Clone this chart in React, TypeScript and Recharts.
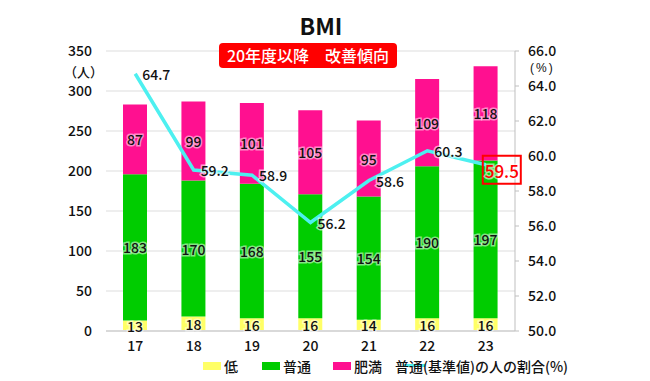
import React from 'react';
import {
  ComposedChart,
  Bar,
  Line,
  XAxis,
  YAxis,
  CartesianGrid,
  LabelList,
} from 'recharts';

const years = ['17', '18', '19', '20', '21', '22', '23'];
const lowCounts = [13, 18, 16, 16, 14, 16, 16];
const normalCounts = [183, 170, 168, 155, 154, 190, 197];
const obeseCounts = [87, 99, 101, 105, 95, 109, 118];
const normalRatio = [64.7, 59.2, 58.9, 56.2, 58.6, 60.3, 59.5];
const leftTicks = [0, 50, 100, 150, 200, 250, 300, 350];
const rightTicks = [50, 52, 54, 56, 58, 60, 62, 64, 66];

const LOW_COLOR = '#FFFF66';
const NORMAL_COLOR = '#00CC00';
const OBESE_COLOR = '#FF1090';
const LINE_COLOR = '#4DF0F0';
const FONT = '"Noto Sans CJK JP", "Noto Sans", sans-serif';

const data = years.map((y, i) => ({
  year: y,
  low: lowCounts[i],
  normal: normalCounts[i],
  obese: obeseCounts[i],
  ratio: normalRatio[i],
}));

const BarValue = (props: any) => {
  const { x, y, width, height, value } = props;
  return (
    <text
      x={x + width / 2}
      y={y + height / 2}
      textAnchor="middle"
      dominantBaseline="central"
      fontSize={14}
      fontWeight={500}
      fontFamily={FONT}
      fill="#111"
      stroke="#fff"
      strokeOpacity={0.5}
      strokeWidth={3}
      paintOrder="stroke"
    >
      {value}
    </text>
  );
};

const RatioValue = (props: any) => {
  const { x, y, value, index } = props;
  if (index === normalRatio.length - 1) {
    return (
      <g>
        <rect x={x - 3} y={y - 9} width={38} height={28} fill="none" stroke="#FF0000" strokeWidth={2} />
        <text
          x={x + 16}
          y={y + 5.5}
          textAnchor="middle"
          dominantBaseline="central"
          fontSize={17}
          fontWeight={500}
          fontFamily={FONT}
          fill="#FF0000"
          stroke="#fff"
          strokeOpacity={0.6}
          strokeWidth={3}
          paintOrder="stroke"
        >
          {value.toFixed(1)}
        </text>
      </g>
    );
  }
  return (
    <text
      x={x + 7}
      y={y}
      textAnchor="start"
      dominantBaseline="central"
      fontSize={14}
      fontWeight={500}
      fontFamily={FONT}
      fill="#111"
      stroke="#fff"
      strokeOpacity={0.6}
      strokeWidth={3}
      paintOrder="stroke"
    >
      {value.toFixed(1)}
    </text>
  );
};

const legendItems = [
  { label: '低', color: LOW_COLOR, left: 203 },
  { label: '普通', color: NORMAL_COLOR, left: 262 },
  { label: '肥満', color: OBESE_COLOR, left: 333 },
];

const tickStyle = { fontSize: 14, fill: '#111', fontFamily: FONT, fontWeight: 500 };

export default function App() {
  return (
    <div
      style={{
        position: 'absolute',
        left: 0,
        top: 0,
        width: 650,
        height: 381,
        background: '#fff',
        fontFamily: FONT,
      }}
    >
      <ComposedChart
        width={650}
        height={381}
        data={data}
        margin={{ top: 51, right: 75, bottom: 20, left: 66 }}
      >
        <CartesianGrid yAxisId="left" vertical={false} stroke="#DDDDDD" />
        <XAxis
          dataKey="year"
          height={30}
          tickLine={false}
          axisLine={{ stroke: '#D9D9D9', strokeWidth: 2 }}
          tickSize={0}
          tickMargin={10}
          tick={tickStyle}
        />
        <YAxis
          yAxisId="left"
          orientation="left"
          width={40}
          domain={[0, 350]}
          ticks={leftTicks}
          axisLine={false}
          tickLine={false}
          tickSize={0}
          tickMargin={14}
          tick={tickStyle}
        />
        <YAxis
          yAxisId="right"
          orientation="right"
          width={60}
          domain={[50, 66]}
          ticks={rightTicks}
          tickFormatter={(v: number) => v.toFixed(1)}
          axisLine={{ stroke: '#BFBFBF' }}
          tickLine={{ stroke: '#BFBFBF' }}
          tickSize={4}
          tickMargin={9}
          tick={tickStyle}
        />
        <Bar yAxisId="left" dataKey="low" stackId="a" fill={LOW_COLOR} barSize={24} isAnimationActive={false}>
          <LabelList dataKey="low" content={BarValue} />
        </Bar>
        <Bar yAxisId="left" dataKey="normal" stackId="a" fill={NORMAL_COLOR} barSize={24} isAnimationActive={false}>
          <LabelList dataKey="normal" content={BarValue} />
        </Bar>
        <Bar yAxisId="left" dataKey="obese" stackId="a" fill={OBESE_COLOR} barSize={24} isAnimationActive={false}>
          <LabelList dataKey="obese" content={BarValue} />
        </Bar>
        <Line
          yAxisId="right"
          type="linear"
          dataKey="ratio"
          stroke={LINE_COLOR}
          strokeWidth={3.5}
          dot={false}
          activeDot={false}
          isAnimationActive={false}
        >
          <LabelList dataKey="ratio" content={RatioValue} />
        </Line>
      </ComposedChart>

      {/* title and badge */}
      <div
        style={{
          position: 'absolute',
          left: 271,
          top: 11,
          width: 100,
          textAlign: 'center',
          fontSize: 23,
          fontWeight: 700,
          color: '#111',
          lineHeight: '28px',
        }}
      >
        BMI
      </div>
      <div
        style={{
          position: 'absolute',
          left: 219,
          top: 43,
          width: 178,
          height: 25,
          background: '#FF0000',
          borderRadius: 4,
          color: '#fff',
          fontSize: 16,
          fontWeight: 500,
          lineHeight: '25px',
          textAlign: 'center',
          whiteSpace: 'pre',
        }}
      >
        {'20年度以降\u3000改善傾向'}
      </div>

      {/* axis units */}
      <div style={{ position: 'absolute', left: 64, top: 65, fontSize: 13, fontWeight: 500, color: '#111', lineHeight: '14px' }}>
        （人）
      </div>
      <div
        style={{
          position: 'absolute',
          left: 530,
          top: 62,
          fontSize: 12,
          fontFamily: '"Liberation Sans", sans-serif',
          letterSpacing: 2,
          color: '#111',
          lineHeight: '12px',
        }}
      >
        (%)
      </div>

      {/* legend */}
      {legendItems.map((it) => (
        <div key={it.label} style={{ position: 'absolute', left: it.left, top: 357, height: 18, display: 'flex', alignItems: 'center' }}>
          <span style={{ display: 'inline-block', width: 18, height: 8, background: it.color, marginRight: 3 }} />
          <span style={{ fontSize: 14, fontWeight: 500, color: '#111', lineHeight: '18px' }}>{it.label}</span>
        </div>
      ))}
      <div style={{ position: 'absolute', left: 403, top: 364, width: 22, height: 3, background: LINE_COLOR }} />
      <div style={{ position: 'absolute', left: 395, top: 357, fontSize: 14, fontWeight: 500, color: '#111', lineHeight: '18px', whiteSpace: 'nowrap' }}>
        普通(基準値)の人の割合(%)
      </div>
    </div>
  );
}
